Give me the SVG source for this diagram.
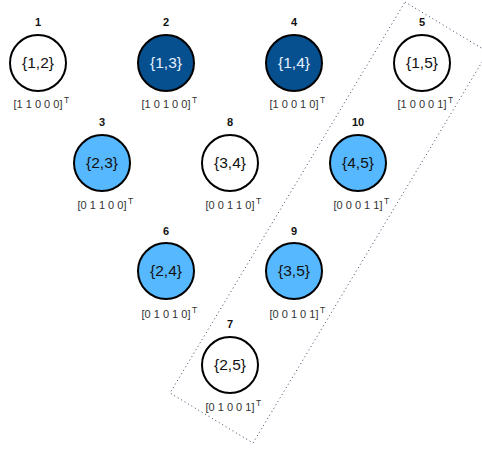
<svg xmlns="http://www.w3.org/2000/svg" width="482" height="451" viewBox="0 0 482 451">
<style>
.c{stroke:#000;stroke-width:2}
.w{fill:#fff}
.d{fill:#07508f}
.l{fill:#56b8ff}
.t{font-family:"Liberation Sans",Arial,sans-serif;font-size:15.5px;text-anchor:middle;fill:#111}
.tw{fill:#e6efff}
.n{font-family:"Liberation Sans",Arial,sans-serif;font-size:11px;font-weight:bold;text-anchor:middle;fill:#111}
.v{font-family:"Liberation Sans",Arial,sans-serif;font-size:11px;text-anchor:middle;fill:#333}
.s{font-family:"Liberation Sans",Arial,sans-serif;font-size:8.5px;fill:#333}
</style>
<g id="connectors">
<polygon points="405,2 488,52 253,443 170,393" fill="none" stroke="#3a4466" stroke-width="1" stroke-dasharray="1 3"/>
</g>
<g id="node1"><text class="n" x="38" y="26">1</text><circle class="c w" cx="38" cy="63" r="28"/><text class="t" x="38" y="68">{1,2}</text><text class="v" x="38" y="108">[1 1 0 0 0]</text><text class="s" x="64" y="103">T</text></g>
<g id="node2"><text class="n" x="166" y="26">2</text><circle class="c d" cx="166" cy="63" r="28"/><text class="t tw" x="166" y="68">{1,3}</text><text class="v" x="166" y="108">[1 0 1 0 0]</text><text class="s" x="192" y="103">T</text></g>
<g id="node4"><text class="n" x="294" y="26">4</text><circle class="c d" cx="294" cy="63" r="28"/><text class="t tw" x="294" y="68">{1,4}</text><text class="v" x="294" y="108">[1 0 0 1 0]</text><text class="s" x="320" y="103">T</text></g>
<g id="node5"><text class="n" x="422" y="26">5</text><circle class="c w" cx="422" cy="63" r="28"/><text class="t" x="422" y="68">{1,5}</text><text class="v" x="422" y="108">[1 0 0 0 1]</text><text class="s" x="448" y="103">T</text></g>
<g id="node3"><text class="n" x="102" y="126">3</text><circle class="c l" cx="102" cy="163" r="28"/><text class="t" x="102" y="168">{2,3}</text><text class="v" x="102" y="209">[0 1 1 0 0]</text><text class="s" x="128" y="204">T</text></g>
<g id="node8"><text class="n" x="230" y="126">8</text><circle class="c w" cx="230" cy="163" r="28"/><text class="t" x="230" y="168">{3,4}</text><text class="v" x="230" y="209">[0 0 1 1 0]</text><text class="s" x="256" y="204">T</text></g>
<g id="node10"><text class="n" x="358" y="126">10</text><circle class="c l" cx="358" cy="163" r="28"/><text class="t" x="358" y="168">{4,5}</text><text class="v" x="358" y="209">[0 0 0 1 1]</text><text class="s" x="384" y="204">T</text></g>
<g id="node6"><text class="n" x="166" y="235">6</text><circle class="c l" cx="166" cy="271" r="28"/><text class="t" x="166" y="276">{2,4}</text><text class="v" x="166" y="318">[0 1 0 1 0]</text><text class="s" x="192" y="313">T</text></g>
<g id="node9"><text class="n" x="294" y="235">9</text><circle class="c l" cx="294" cy="271" r="28"/><text class="t" x="294" y="276">{3,5}</text><text class="v" x="294" y="318">[0 0 1 0 1]</text><text class="s" x="320" y="313">T</text></g>
<g id="node7"><text class="n" x="230" y="328">7</text><circle class="c w" cx="230" cy="365" r="28"/><text class="t" x="230" y="370">{2,5}</text><text class="v" x="230" y="411">[0 1 0 0 1]</text><text class="s" x="256" y="406">T</text></g>
</svg>
